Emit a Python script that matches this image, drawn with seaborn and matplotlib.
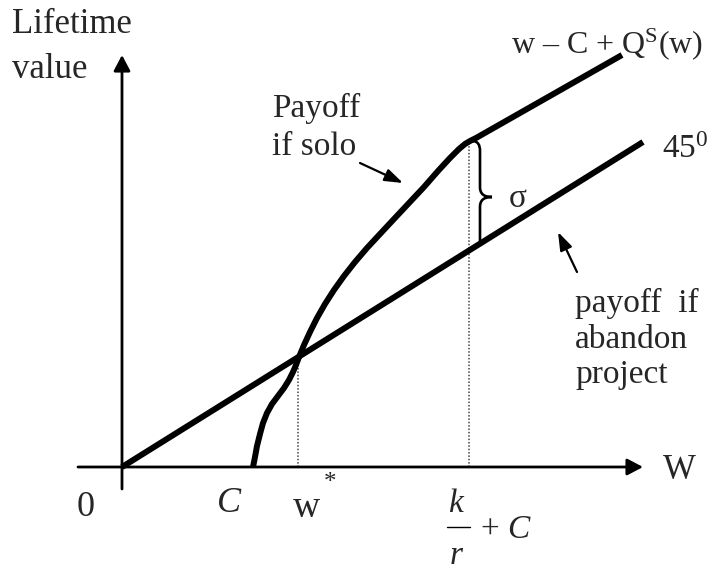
import matplotlib
matplotlib.use("Agg")
import matplotlib.pyplot as plt
import seaborn as sns
import pandas as pd
from matplotlib.path import Path
from matplotlib.patches import PathPatch

sns.set_style("white")
plt.rcParams['font.family'] = ['Liberation Serif', 'DejaVu Serif']
plt.rcParams['mathtext.fontset'] = 'custom'
plt.rcParams['mathtext.rm'] = 'Liberation Serif'
plt.rcParams['mathtext.it'] = 'Liberation Serif:italic'

# --- data (diagram units: origin at the axes crossing) ---
line45_x = [0, 521]
line45_y = [0, 325]

solo_x = [131, 133, 135, 138, 141, 145, 150, 156, 162, 167, 171, 174, 177, 182, 188, 195,
          203, 212, 222, 233, 245, 258, 272, 287, 302, 316, 328, 337, 343, 348, 354, 500]
solo_y = [0, 10, 21, 33, 44, 54, 63, 71, 79, 87, 95, 102, 110, 122, 135, 149,
          163, 177, 191, 205, 219, 233, 248, 264, 280, 296, 309, 318, 323, 326, 329, 412]

w_star = 176        # x position of w*
kr_C = 347          # x position of k/r + C
kr_C_top = 326      # value of solo payoff at k/r + C

x_axis = [-44, 521]
y_axis = [-22, 412]

fig = plt.figure(figsize=(7.1, 5.72), dpi=100)
ax = fig.add_axes([0, 0, 1, 1])
ax.set_xlim(-122, 588)
ax.set_ylim(-105, 467)
ax.axis('off')

# axes with arrows
arrow_kw = dict(arrowstyle="-|>,head_length=0.95,head_width=0.5", mutation_scale=10,
                lw=2.0, color='black', shrinkA=0, shrinkB=0)
ax.annotate("", xy=(x_axis[1], 0), xytext=(x_axis[0], 0), arrowprops=arrow_kw)
ax.annotate("", xy=(0, y_axis[1]), xytext=(0, y_axis[0]), arrowprops=arrow_kw)

# dotted guides
ax.plot([w_star, w_star], [0, w_star * line45_y[1] / line45_x[1]], ls=(0, (1, 1.2)), lw=1.1, color='#444444')
ax.plot([kr_C, kr_C], [0, kr_C_top], ls=(0, (1, 1.2)), lw=1.1, color='#444444')

# main curves
df45 = pd.DataFrame({'x': line45_x, 'y': line45_y})
dfsolo = pd.DataFrame({'x': solo_x, 'y': solo_y})
sns.lineplot(data=df45, x='x', y='y', ax=ax, color='black', lw=4.3, sort=False,
             solid_capstyle='butt')
sns.lineplot(data=dfsolo, x='x', y='y', ax=ax, color='black', lw=4.3, sort=False,
             solid_capstyle='butt', solid_joinstyle='round')
ax.axis('off')

# brace
verts = [(350, 326), (356, 326), (358, 322), (358, 316),
         (358, 280),
         (358, 273), (362, 270), (370, 270),
         (362, 270), (358, 267), (358, 260),
         (358, 226)]
codes = [Path.MOVETO, Path.CURVE4, Path.CURVE4, Path.CURVE4,
         Path.LINETO,
         Path.CURVE4, Path.CURVE4, Path.CURVE4,
         Path.CURVE4, Path.CURVE4, Path.CURVE4,
         Path.LINETO]
ax.add_patch(PathPatch(Path(verts, codes), fill=False, lw=1.9, color='black'))

# pointer arrows
pk = dict(arrowstyle="-|>,head_length=1.1,head_width=0.38", mutation_scale=10,
          lw=1.6, color='black', shrinkA=0, shrinkB=0)
ax.annotate("", xy=(281, 284), xytext=(238, 304), arrowprops=pk)
ax.annotate("", xy=(436, 235), xytext=(455, 195), arrowprops=pk)

# texts
fs = 24
ax.text(-110, 434, "Lifetime", fontsize=25, va='baseline', ha='left')
ax.text(-110, 389, "value", fontsize=25, va='baseline', ha='left')
ax.text(150, 350, "Payoff", fontsize=fs, va='baseline', ha='left')
ax.text(150, 312, "if solo", fontsize=fs, va='baseline', ha='left')
ax.text(389, 414, r"w – C + Q$^{\mathrm{S}}$(w)", fontsize=23, va='baseline', ha='left')
ax.text(540, 309, r"45$^{0}$", fontsize=fs, va='baseline', ha='left')
ax.text(396, 268, "σ", fontsize=fs, va='center', ha='center')
ax.text(453, 155, "payoff  if", fontsize=fs, va='baseline', ha='left')
ax.text(453, 119, "abandon", fontsize=fs, va='baseline', ha='left')
ax.text(453, 84, "project", fontsize=fs, va='baseline', ha='left')
ax.text(541, -12, "W", fontsize=25, va='baseline', ha='left')
ax.text(-45, -49, "0", fontsize=26, va='baseline', ha='left')
ax.text(95, -45, "C", fontsize=26, va='baseline', ha='left', fontstyle='italic')
ax.text(171, -50, "w", fontsize=27, va='baseline', ha='left')
ax.text(208, -16, "*", fontsize=18, va='center', ha='center')
ax.text(326, -45, "k", fontsize=fs, va='baseline', ha='left', fontstyle='italic')
ax.plot([325, 348], [-60, -60], color='black', lw=1.0)
ax.text(328, -97, "r", fontsize=fs, va='baseline', ha='left', fontstyle='italic')
ax.text(358, -71, r"+ $C$", fontsize=fs, va='baseline', ha='left')

fig.savefig("out.png", dpi=100)
